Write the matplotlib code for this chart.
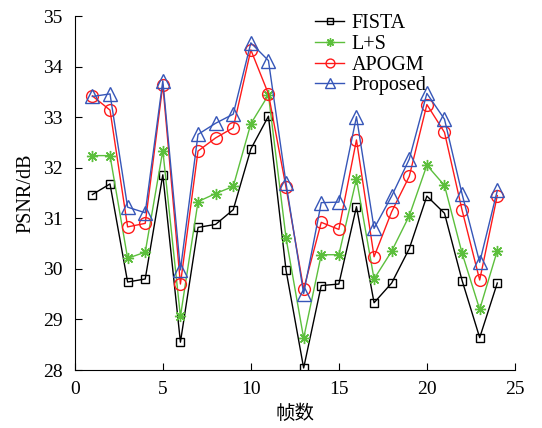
import matplotlib
matplotlib.use("Agg")

import matplotlib.pyplot as plt

# ── Data ──────────────────────────────────────────────────────────────────
frames = list(range(1, 25))

psnr_fista = [31.47, 31.68, 29.74, 29.80, 31.86, 28.55, 30.82, 30.88,
              31.17, 32.37, 33.02, 29.97, 28.04, 29.67, 29.70, 31.23,
              29.33, 29.72, 30.40, 31.44, 31.10, 29.77, 28.64, 29.72]
psnr_ls = [32.24, 32.24, 30.21, 30.33, 32.34, 29.06, 31.33, 31.49,
           31.63, 32.87, 33.44, 30.61, 28.63, 30.28, 30.28, 31.78,
           29.80, 30.35, 31.05, 32.05, 31.65, 30.31, 29.20, 30.36]
psnr_apogm = [33.42, 33.14, 30.83, 30.90, 33.64, 29.70, 32.33, 32.59,
              32.79, 34.33, 33.46, 31.61, 29.60, 30.92, 30.78, 32.55,
              30.24, 31.13, 31.83, 33.25, 32.70, 31.16, 29.78, 31.45]
psnr_proposed = [33.41, 33.46, 31.22, 31.11, 33.72, 29.98, 32.66, 32.88,
                 33.06, 34.47, 34.12, 31.69, 29.51, 31.31, 31.32, 33.01,
                 30.80, 31.44, 32.17, 33.47, 32.96, 31.48, 30.13, 31.55]

x_ticks = [0, 5, 10, 15, 20, 25]
y_ticks = [28, 29, 30, 31, 32, 33, 34, 35]

# ── Style ─────────────────────────────────────────────────────────────────
plt.rcParams["font.family"] = ["Liberation Serif", "Noto Sans CJK SC"]

BLACK = "black"
GREEN = "#5cbf3c"
RED = "#ff1a1a"
BLUE = "#3656b8"
ASTERISK = (8, 2, 0)  # MATLAB-style '*' (plus + cross)

fig = plt.figure(figsize=(5.42, 4.28), dpi=100)
ax = fig.add_axes([0.138, 0.1355, 0.812, 0.827])

common = dict(linewidth=1.0, markerfacecolor="none")
ax.plot(frames, psnr_fista, color=BLACK, marker="s", markersize=6,
        markeredgewidth=1.0, label="FISTA", **common)
ax.plot(frames, psnr_ls, color=GREEN, marker=ASTERISK, markersize=8,
        markeredgewidth=1.0, label="L+S", **common)
ax.plot(frames, psnr_apogm, color=RED, marker="o", markersize=8.5,
        markeredgewidth=1.0, label="APOGM", **common)
ax.plot(frames, psnr_proposed, color=BLUE, marker="^", markersize=9.5,
        markeredgewidth=1.0, label="Proposed", **common)

ax.set_xlim(0, 25)
ax.set_ylim(28, 35)
ax.set_xticks(x_ticks)
ax.set_yticks(y_ticks)
ax.tick_params(direction="in", length=5, width=0.8, labelsize=14)
ax.tick_params(axis="y", pad=9)
ax.tick_params(axis="x", pad=8)
ax.spines["top"].set_visible(False)
ax.spines["right"].set_visible(False)
for side in ("left", "bottom"):
    ax.spines[side].set_linewidth(0.8)

ax.set_xlabel("帧数", fontsize=14, labelpad=5)
ax.set_ylabel("PSNR/dB", fontsize=14.5, labelpad=5)

ax.legend(loc="upper left", bbox_to_anchor=(0.514, 1.045), frameon=False,
          fontsize=14.5, handlelength=1.45, handletextpad=0.35,
          labelspacing=0.08, markerscale=0.75, borderpad=0.2)

fig.savefig("out.png", dpi=100)
plt.close(fig)
